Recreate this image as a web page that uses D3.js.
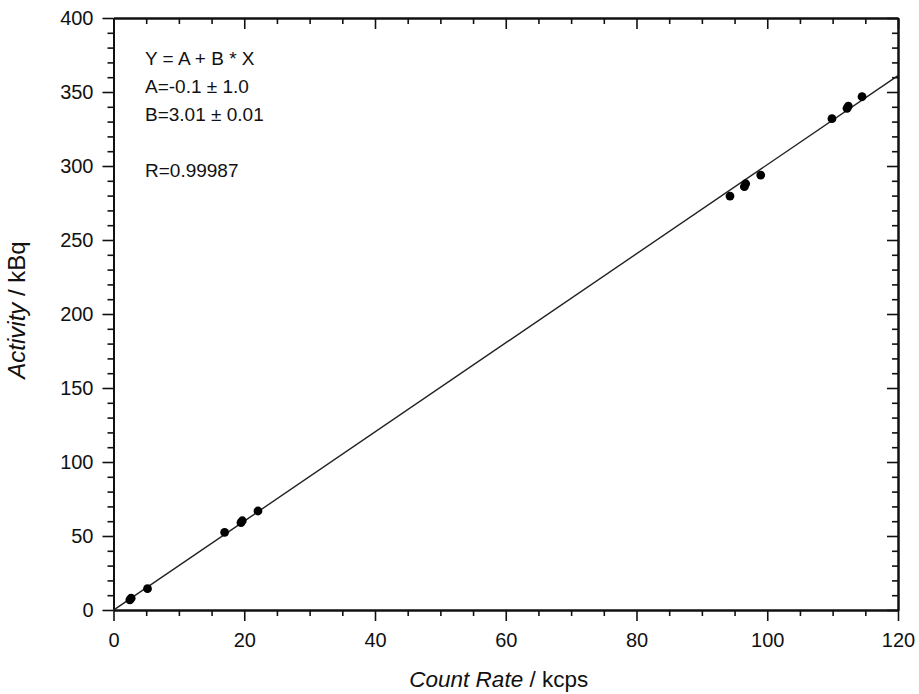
<!DOCTYPE html>
<html>
<head>
<meta charset="utf-8">
<script src="https://cdn.jsdelivr.net/npm/d3@7"></script>
<style>
  body { margin: 0; background: #fff; }
  text { font-family: "Liberation Sans", Arial, sans-serif; fill: #111; }
</style>
</head>
<body>
<div id="graph"></div>
<script>
// measured points (count rate in kcps, activity in kBq)
const countRate = [2.5, 2.7, 5.2, 17.0, 19.5, 19.7, 22.1, 94.3, 96.5, 96.7, 99.0, 109.9, 112.2, 112.4, 114.5];
const activity  = [6.8, 8.0, 14.4, 52.5, 59.0, 60.3, 66.9, 279.7, 286.0, 288.0, 293.9, 332.0, 339.0, 340.5, 346.8];

// linear fit Y = A + B * X
const fitA = -0.1, fitB = 3.01;
const fitLabels = ["Y = A + B * X", "A=-0.1 \u00b1 1.0", "B=3.01 \u00b1 0.01", "", "R=0.99987"];

const xTicks = [0, 20, 40, 60, 80, 100, 120];
const yTicks = [0, 50, 100, 150, 200, 250, 300, 350, 400];

const width = 919, height = 694;
const margin = {top: 18, right: 21, bottom: 84, left: 113.5};
const w = width - margin.left - margin.right;
const h = height - margin.top - margin.bottom;

let svg = d3.select("#graph")
    .append("svg")
    .attr("width", width)
    .attr("height", height)
    .append("g")
    .attr("transform", `translate(${margin.left}, ${margin.top})`);

let x = d3.scaleLinear().domain([0, 120]).range([0, w]);
let y = d3.scaleLinear().domain([0, 400]).range([h, 0]);

const xMinor = d3.range(0, 121, 5).filter(d => d % 20 !== 0);
const yMinor = d3.range(0, 401, 10).filter(d => d % 50 !== 0);

function styleAxis(g) {
    g.selectAll("path").attr("stroke", "#111").attr("stroke-width", 2);
    g.selectAll("line").attr("stroke", "#111").attr("stroke-width", 1.6);
    g.selectAll("text").style("font-size", "20px");
}

// bottom axis: major + minor, outward
svg.append("g")
    .attr("transform", `translate(0, ${h})`)
    .call(d3.axisBottom(x).tickValues(xTicks).tickSize(11).tickPadding(12).tickSizeOuter(0))
    .call(styleAxis);
svg.append("g")
    .attr("transform", `translate(0, ${h})`)
    .call(d3.axisBottom(x).tickValues(xMinor).tickSize(6).tickFormat("").tickSizeOuter(0))
    .call(styleAxis);

// left axis
svg.append("g")
    .call(d3.axisLeft(y).tickValues(yTicks).tickSize(11).tickPadding(9).tickSizeOuter(0))
    .call(styleAxis);
svg.append("g")
    .call(d3.axisLeft(y).tickValues(yMinor).tickSize(6).tickFormat("").tickSizeOuter(0))
    .call(styleAxis);

// top axis, ticks inward
svg.append("g")
    .call(d3.axisTop(x).tickValues(xTicks).tickSize(-11).tickFormat("").tickSizeOuter(0))
    .call(styleAxis);
svg.append("g")
    .call(d3.axisTop(x).tickValues(xMinor).tickSize(-6).tickFormat("").tickSizeOuter(0))
    .call(styleAxis);

// right axis, ticks inward
svg.append("g")
    .attr("transform", `translate(${w}, 0)`)
    .call(d3.axisRight(y).tickValues(yTicks).tickSize(-11).tickFormat("").tickSizeOuter(0))
    .call(styleAxis);
svg.append("g")
    .attr("transform", `translate(${w}, 0)`)
    .call(d3.axisRight(y).tickValues(yMinor).tickSize(-6).tickFormat("").tickSizeOuter(0))
    .call(styleAxis);

// fit line
svg.append("line")
    .attr("x1", x(0)).attr("y1", y(fitA))
    .attr("x2", x(120)).attr("y2", y(fitA + fitB * 120))
    .attr("stroke", "#222")
    .attr("stroke-width", 1.4);

// data points
let pts = countRate.map((c, i) => ({c: c, a: activity[i]}));
svg.selectAll("circle").data(pts).enter()
    .append("circle")
    .attr("cx", d => x(d.c))
    .attr("cy", d => y(d.a))
    .attr("r", 4.4)
    .attr("fill", "#000");

// fit annotation
svg.append("g").selectAll("text").data(fitLabels).enter()
    .append("text")
    .attr("x", 31.5)
    .attr("y", (d, i) => 47 + i * 28)
    .style("font-size", "19px")
    .text(d => d);

// x-axis label
let xl = svg.append("text")
    .attr("transform", `translate(${x(60) - 7}, ${h + 77})`)
    .style("text-anchor", "middle")
    .style("font-size", "22.5px");
xl.append("tspan").style("font-style", "italic").text("Count Rate");
xl.append("tspan").text(" / kcps");

// y-axis label
let yl = svg.append("text")
    .attr("transform", `translate(${-89}, ${h / 2 - 4}) rotate(-90)`)
    .style("text-anchor", "middle")
    .style("font-size", "24px");
yl.append("tspan").style("font-style", "italic").text("Activity");
yl.append("tspan").text(" / kBq");
</script>
</body>
</html>
